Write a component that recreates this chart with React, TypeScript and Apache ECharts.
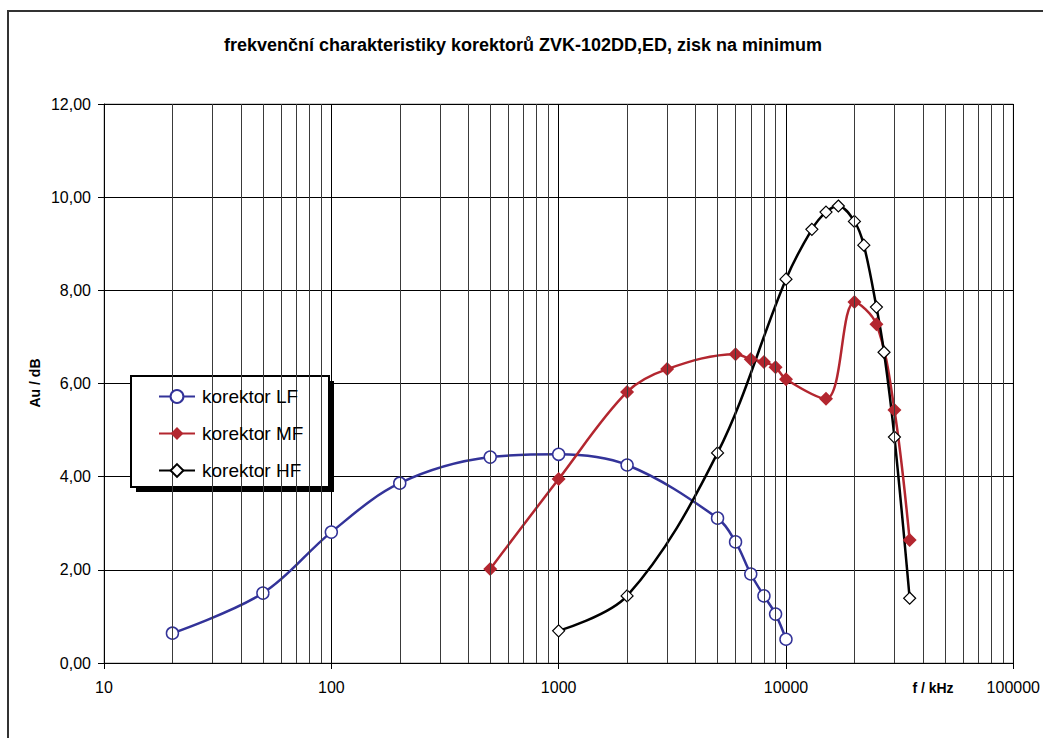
import React, { useEffect, useRef } from "react";
import * as echarts from "echarts";

const TITLE = "frekvenční charakteristiky korektorů ZVK-102DD,ED, zisk na minimum";
const SERIES_NAMES = ["korektor LF", "korektor MF", "korektor HF"];

const lfFreq = [20, 50, 100, 200, 500, 1000, 2000, 5000, 6000, 7000, 8000, 9000, 10000];
const lfGain = [0.64, 1.5, 2.81, 3.86, 4.42, 4.48, 4.25, 3.11, 2.6, 1.91, 1.44, 1.05, 0.51];

const mfFreq = [500, 1000, 2000, 3000, 6000, 7000, 8000, 9000, 10000, 15000, 20000, 25000, 30000, 35000];
const mfGain = [2.02, 3.95, 5.82, 6.31, 6.63, 6.52, 6.46, 6.35, 6.09, 5.67, 7.75, 7.27, 5.43, 2.64];

const hfFreq = [1000, 2000, 5000, 10000, 13000, 15000, 17000, 20000, 22000, 25000, 27000, 30000, 35000];
const hfGain = [0.69, 1.44, 4.51, 8.24, 9.31, 9.68, 9.81, 9.48, 8.97, 7.64, 6.67, 4.85, 1.39];

const minorGridFreqs = [
  20, 30, 40, 50, 60, 70, 80, 90,
  200, 300, 400, 500, 600, 700, 800, 900,
  2000, 3000, 4000, 5000, 6000, 7000, 8000, 9000,
  20000, 30000, 40000, 50000, 60000, 70000, 80000, 90000,
];

const FONT = "'Liberation Sans', Arial, sans-serif";

function pairs(xs: number[], ys: number[]) {
  return xs.map((x, i) => [x, ys[i]]);
}

export default function App() {
  const ref = useRef<HTMLDivElement>(null);

  useEffect(() => {
    if (!ref.current) return;
    const chart = echarts.init(ref.current, undefined, { renderer: "svg" });
    const option: any = {
      animation: false,
      backgroundColor: "#ffffff",
      textStyle: { fontFamily: FONT },
      grid: {
        left: 104,
        top: 104,
        width: 912,
        height: 559,
        show: true,
        borderColor: "#9a9a9a",
        borderWidth: 1,
        backgroundColor: "transparent",
      },
      xAxis: {
        type: "log",
        logBase: 10,
        min: 10,
        max: 100000,
        axisLine: { lineStyle: { color: "#000", width: 1 } },
        axisTick: { show: true, length: 6, lineStyle: { color: "#000" } },
        axisLabel: {
          color: "#000",
          fontSize: 16,
          fontFamily: FONT,
          margin: 16,
          formatter: (v: number) => String(Math.round(v)),
        },
        splitLine: { show: true, lineStyle: { color: "#000", width: 1 } },
      },
      yAxis: {
        type: "value",
        min: 0,
        max: 12,
        interval: 2,
        axisLine: { show: true, lineStyle: { color: "#000", width: 1 } },
        axisTick: { show: true, length: 6, lineStyle: { color: "#000" } },
        axisLabel: {
          color: "#000",
          fontSize: 16,
          fontFamily: FONT,
          margin: 13,
          formatter: (v: number) => v.toFixed(2).replace(".", ","),
        },
        splitLine: { show: true, lineStyle: { color: "#000", width: 1 } },
      },
      legend: {
        data: SERIES_NAMES,
        orient: "vertical",
        left: 158,
        top: 387,
        padding: 0,
        itemGap: 18,
        itemWidth: 36,
        itemHeight: 16,
        z: 6,
        textStyle: { color: "#000", fontSize: 19, fontFamily: FONT, padding: [0, 0, 0, 2] },
        backgroundColor: "transparent",
      },
      graphic: [
        {
          type: "rect",
          z: 0,
          silent: true,
          shape: { x: 8, y: 11, width: 1100, height: 800 },
          style: { fill: "none", stroke: "#333", lineWidth: 2 },
        },
        {
          type: "text",
          x: 523,
          y: 45,
          silent: true,
          style: {
            text: TITLE,
            fill: "#000",
            font: `bold 18px ${FONT}`,
            textAlign: "center",
            textVerticalAlign: "middle",
          },
        },
        {
          type: "text",
          x: 35,
          y: 383,
          rotation: Math.PI / 2,
          silent: true,
          style: {
            text: "Au / dB",
            fill: "#000",
            font: `bold 14px ${FONT}`,
            textAlign: "center",
            textVerticalAlign: "middle",
          },
        },
        {
          type: "text",
          x: 933,
          y: 688,
          silent: true,
          style: {
            text: "f / kHz",
            fill: "#000",
            font: `bold 14px ${FONT}`,
            textAlign: "center",
            textVerticalAlign: "middle",
          },
        },
        {
          type: "rect",
          z: 3,
          silent: true,
          shape: { x: 136, y: 381, width: 198, height: 111 },
          style: { fill: "#000", stroke: "none" },
        },
        {
          type: "rect",
          z: 4,
          silent: true,
          shape: { x: 131, y: 376, width: 198, height: 111 },
          style: { fill: "#fff", stroke: "#000", lineWidth: 2 },
        },
      ],
      series: [
        {
          name: "grid-minor",
          type: "line",
          z: 1,
          data: [],
          silent: true,
          markLine: {
            silent: true,
            symbol: ["none", "none"],
            label: { show: false },
            animation: false,
            lineStyle: { color: "#3a3a3a", width: 1, type: "solid" },
            emphasis: { disabled: true },
            data: minorGridFreqs.map((f) => ({ xAxis: f })),
          },
        },
        {
          name: SERIES_NAMES[0],
          type: "line",
          z: 3,
          smooth: 0.35,
          data: pairs(lfFreq, lfGain),
          symbol: "circle",
          symbolSize: 12,
          lineStyle: { color: "#333399", width: 2.5 },
          itemStyle: { color: "#ffffff", borderColor: "#333399", borderWidth: 1.5 },
        },
        {
          name: SERIES_NAMES[1],
          type: "line",
          z: 3,
          smooth: 0.35,
          data: pairs(mfFreq, mfGain),
          symbol: "diamond",
          symbolSize: 14,
          lineStyle: { color: "#b3262f", width: 2.5 },
          itemStyle: { color: "#b3262f", borderColor: "#b3262f", borderWidth: 0 },
        },
        {
          name: SERIES_NAMES[2],
          type: "line",
          z: 3,
          smooth: 0.35,
          data: pairs(hfFreq, hfGain),
          symbol: "diamond",
          symbolSize: 12,
          lineStyle: { color: "#000000", width: 2.5 },
          itemStyle: { color: "#ffffff", borderColor: "#000000", borderWidth: 1.2 },
        },
      ],
    };
    chart.setOption(option);
    return () => {
      chart.dispose();
    };
  }, []);

  return (
    <div
      ref={ref}
      style={{ position: "absolute", left: 0, top: 0, width: 1043, height: 738 }}
    />
  );
}
